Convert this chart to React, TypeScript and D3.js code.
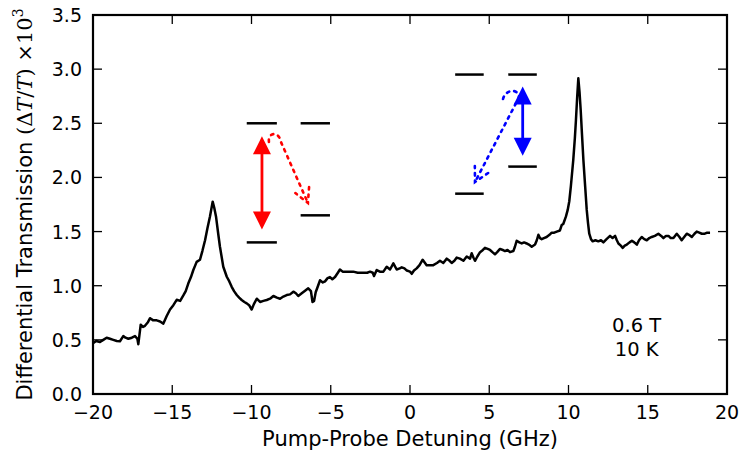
import React from "react";
import * as d3 from "d3";

const detuning = [
  -20.0, -19.8, -19.56, -19.35, -19.14, -18.93, -18.72, -18.5, -18.3, -18.09, -17.95, -17.77, -17.55, -17.35, -17.2, -17.14,
  -16.99, -16.85, -16.72, -16.55, -16.4, -16.2, -15.98, -15.77, -15.56, -15.35, -15.14, -14.93, -14.72, -14.5, -14.3, -14.15,
  -13.99, -13.82, -13.67, -13.46, -13.25, -13.1, -12.93, -12.78, -12.62, -12.45, -12.35, -12.24, -12.1, -11.99, -11.78, -11.56,
  -11.4, -11.25, -11.1, -10.93, -10.78, -10.62, -10.45, -10.3, -10.15, -9.99, -9.85, -9.67, -9.46, -9.25, -9.04, -8.83,
  -8.62, -8.4, -8.2, -7.99, -7.78, -7.57, -7.36, -7.2, -7.05, -6.83, -6.62, -6.42, -6.25, -6.15, -6.05, -5.95,
  -5.8, -5.68, -5.5, -5.36, -5.2, -5.05, -4.9, -4.73, -4.55, -4.42, -4.25, -4.1, -3.8, -3.58, -3.3, -2.95,
  -2.7, -2.52, -2.35, -2.27, -2.1, -1.9, -1.68, -1.47, -1.26, -1.05, -0.84, -0.65, -0.52, -0.35, -0.2, 0.0,
  0.11, 0.25, 0.42, 0.6, 0.8, 1.05, 1.25, 1.47, 1.7, 1.89, 2.1, 2.32, 2.5, 2.63, 2.8, 2.95,
  3.15, 3.37, 3.58, 3.79, 3.89, 4.0, 4.1, 4.25, 4.42, 4.6, 4.73, 4.9, 5.05, 5.2, 5.36, 5.5,
  5.68, 5.85, 5.99, 6.15, 6.31, 6.52, 6.62, 6.73, 6.9, 7.05, 7.2, 7.36, 7.5, 7.68, 7.89, 8.0,
  8.1, 8.2, 8.31, 8.45, 8.62, 8.8, 8.94, 9.1, 9.26, 9.46, 9.57, 9.67, 9.84, 9.95, 10.05, 10.15,
  10.3, 10.4, 10.47, 10.55, 10.62, 10.7, 10.77, 10.85, 10.94, 11.05, 11.15, 11.23, 11.31, 11.42, 11.52, 11.7,
  11.88, 12.05, 12.2, 12.4, 12.62, 12.78, 12.94, 13.05, 13.15, 13.3, 13.42, 13.55, 13.68, 13.85, 14.0, 14.15,
  14.31, 14.45, 14.62, 14.78, 14.94, 15.1, 15.25, 15.45, 15.67, 15.85, 15.99, 16.15, 16.31, 16.45, 16.62, 16.83,
  17.0, 17.14, 17.3, 17.46, 17.6, 17.78, 17.95, 18.09, 18.25, 18.41, 18.6, 18.75, 18.93,
];

const transmission = [
  0.47, 0.49, 0.48, 0.5, 0.52, 0.51, 0.5, 0.49, 0.487, 0.535, 0.52, 0.51, 0.52, 0.535, 0.51, 0.46,
  0.64, 0.62, 0.63, 0.66, 0.7, 0.68, 0.68, 0.67, 0.65, 0.72, 0.78, 0.82, 0.87, 0.86, 0.91, 0.95,
  1.02, 1.08, 1.145, 1.22, 1.24, 1.32, 1.42, 1.53, 1.64, 1.776, 1.72, 1.64, 1.48, 1.36, 1.175, 1.083,
  1.04, 0.99, 0.95, 0.914, 0.89, 0.868, 0.85, 0.837, 0.82, 0.78, 0.83, 0.88, 0.85, 0.86, 0.868, 0.88,
  0.905, 0.89, 0.88, 0.9, 0.914, 0.92, 0.945, 0.93, 0.905, 0.93, 0.954, 0.976, 0.95, 0.85, 0.86, 0.94,
  1.0, 1.05, 1.03, 1.04, 1.07, 1.08, 1.06, 1.08, 1.12, 1.15, 1.13, 1.13, 1.13, 1.13, 1.12, 1.12,
  1.12, 1.13, 1.12, 1.09, 1.145, 1.13, 1.13, 1.175, 1.15, 1.207, 1.15, 1.16, 1.17, 1.16, 1.14, 1.13,
  1.11, 1.14, 1.16, 1.19, 1.24, 1.19, 1.19, 1.19, 1.21, 1.23, 1.21, 1.25, 1.23, 1.21, 1.23, 1.26,
  1.25, 1.23, 1.27, 1.25, 1.3, 1.26, 1.23, 1.27, 1.31, 1.33, 1.35, 1.34, 1.33, 1.31, 1.29, 1.31,
  1.34, 1.33, 1.32, 1.33, 1.31, 1.32, 1.36, 1.415, 1.4, 1.39, 1.4, 1.39, 1.38, 1.36, 1.38, 1.42,
  1.47, 1.44, 1.43, 1.44, 1.45, 1.47, 1.49, 1.49, 1.5, 1.51, 1.56, 1.57, 1.64, 1.7, 1.78, 1.92,
  2.16, 2.36, 2.53, 2.75, 2.915, 2.78, 2.62, 2.4, 2.16, 1.92, 1.7, 1.58, 1.48, 1.43, 1.41, 1.42,
  1.41, 1.42, 1.4, 1.43, 1.46, 1.44, 1.46, 1.42, 1.39, 1.37, 1.35, 1.37, 1.38, 1.4, 1.415, 1.4,
  1.38, 1.42, 1.45, 1.43, 1.42, 1.44, 1.45, 1.46, 1.48, 1.46, 1.44, 1.46, 1.46, 1.44, 1.44, 1.48,
  1.45, 1.42, 1.45, 1.48, 1.47, 1.45, 1.48, 1.5, 1.49, 1.48, 1.48, 1.49, 1.49,
];

const xTicks = [-20, -15, -10, -5, 0, 5, 10, 15, 20];
const yTicks = [0, 0.5, 1.0, 1.5, 2.0, 2.5, 3.0, 3.5];

// energy level bars: [x0, x1, y]
const levels = [
  [-10.3, -8.4, 2.5],
  [-10.3, -8.4, 1.4],
  [-6.9, -5.05, 2.5],
  [-6.9, -5.05, 1.65],
  [2.85, 4.65, 2.95],
  [2.85, 4.65, 1.85],
  [6.2, 8.0, 2.95],
  [6.2, 8.0, 2.1],
];

// solid double arrows: [x, yTop, yBottom, color]
const solidArrows: [number, number, number, string][] = [
  [-9.34, 2.38, 1.52, "#ff0000"],
  [7.11, 2.84, 2.2, "#0000ff"],
];

// dotted hook arrows: start, ctrl1, ctrl2, hook end, tip
const dottedArrows: [number, number][][] = [
  [[-8.9, 2.327], [-8.98, 2.42], [-8.26, 2.43], [-8.14, 2.327], [-6.44, 1.764]],
  [[5.87, 2.724], [6.0, 2.81], [6.82, 2.83], [6.88, 2.74], [4.1, 1.957]],
];
const dottedColors = ["#ff0000", "#0000ff"];

const W = 741;
const H = 456;
const L = 93, R = 727, T = 15, B = 394;

export default function App() {
  const x = d3.scaleLinear().domain([-20, 20]).range([L, R]);
  const y = d3.scaleLinear().domain([0, 3.5]).range([B, T]);
  const pts = detuning.map((d, i) => [d, transmission[i]] as [number, number]);
  const line = d3.line<[number, number]>().x((d) => x(d[0])).y((d) => y(d[1]));
  const fmtX = (v: number) => (v < 0 ? "\u2212" + Math.abs(v) : String(v));
  const fmtY = d3.format(".1f");
  const tickLen = 9;
  const sans = "'DejaVu Sans', sans-serif";
  const serif = "'DejaVu Serif', serif";

  return (
    <svg width={W} height={H} style={{ position: "absolute", left: 0, top: 0, background: "#fff" }}>
      <rect x={0} y={0} width={W} height={H} fill="#fff" />
      {/* data line */}
      <path d={line(pts) || ""} fill="none" stroke="#000" strokeWidth={2.5} strokeLinejoin="round" />

      {/* levels */}
      {levels.map((l, i) => (
        <line key={"lv" + i} x1={x(l[0])} x2={x(l[1])} y1={y(l[2])} y2={y(l[2])} stroke="#000" strokeWidth={2.5} />
      ))}

      {/* solid arrows */}
      {solidArrows.map(([ax, yt, yb, c], i) => {
        const px = x(ax), pt = y(yt), pb = y(yb);
        const hl = 18, hw = 9;
        return (
          <g key={"sa" + i}>
            <line x1={px} x2={px} y1={pt + hl - 2} y2={pb - hl + 2} stroke={c} strokeWidth={2.8} />
            <polygon points={`${px},${pt} ${px - hw},${pt + hl} ${px + hw},${pt + hl}`} fill={c} />
            <polygon points={`${px},${pb} ${px - hw},${pb - hl} ${px + hw},${pb - hl}`} fill={c} />
          </g>
        );
      })}

      {/* dotted arrows */}
      {dottedArrows.map((a, i) => {
        const p = a.map(([u, v]) => [x(u), y(v)]);
        const pth = d3.path();
        pth.moveTo(p[0][0], p[0][1]);
        pth.bezierCurveTo(p[1][0], p[1][1], p[2][0], p[2][1], p[3][0], p[3][1]);
        pth.lineTo(p[4][0], p[4][1]);
        const dx = p[3][0] - p[4][0], dy = p[3][1] - p[4][1];
        const len = Math.hypot(dx, dy);
        const ux = dx / len, uy = dy / len;
        const al = 16, ang = (28 * Math.PI) / 180;
        const rot = (s: number) => [
          p[4][0] + al * (ux * Math.cos(s * ang) - uy * Math.sin(s * ang)),
          p[4][1] + al * (ux * Math.sin(s * ang) + uy * Math.cos(s * ang)),
        ];
        const a1 = rot(1), a2 = rot(-1);
        const head = `M${a1[0]},${a1[1]} L${p[4][0]},${p[4][1]} L${a2[0]},${a2[1]}`;
        return (
          <g key={"da" + i} fill="none" stroke={dottedColors[i]} strokeWidth={2.6} strokeLinecap="round" strokeDasharray="2.5,5">
            <path d={pth.toString()} />
            <path d={head} />
          </g>
        );
      })}

      {/* ticks */}
      {xTicks.map((t) => (
        <g key={"xt" + t}>
          <line x1={x(t)} x2={x(t)} y1={B} y2={B - tickLen} stroke="#000" strokeWidth={1.3} />
          <line x1={x(t)} x2={x(t)} y1={T} y2={T + tickLen} stroke="#000" strokeWidth={1.3} />
          <text x={x(t)} y={419} textAnchor="middle" fontFamily={sans} fontSize={19} fill="#000">
            {fmtX(t)}
          </text>
        </g>
      ))}
      {yTicks.map((t) => (
        <g key={"yt" + t}>
          <line x1={L} x2={L + tickLen} y1={y(t)} y2={y(t)} stroke="#000" strokeWidth={1.3} />
          <line x1={R} x2={R - tickLen} y1={y(t)} y2={y(t)} stroke="#000" strokeWidth={1.3} />
          <text x={82} y={y(t) + 7} textAnchor="end" fontFamily={sans} fontSize={19} fill="#000">
            {fmtY(t)}
          </text>
        </g>
      ))}

      {/* frame */}
      <rect x={L} y={T} width={R - L} height={B - T} fill="none" stroke="#000" strokeWidth={2.2} />

      {/* labels */}
      <text x={(L + R) / 2} y={446} textAnchor="middle" fontFamily={sans} fontSize={21} fill="#000">
        Pump-Probe Detuning (GHz)
      </text>
      <text transform={`translate(32,${(T + B) / 2}) rotate(-90)`} textAnchor="middle" fontFamily={sans} fontSize={21} fill="#000">
        Differential Transmission{" "}
        <tspan fontFamily={serif}>(Δ</tspan>
        <tspan fontFamily={serif} fontStyle="italic">T</tspan>
        <tspan fontFamily={serif}>/</tspan>
        <tspan fontFamily={serif} fontStyle="italic">T</tspan>
        <tspan fontFamily={serif}>) ×10</tspan>
        <tspan fontFamily={serif} fontSize={14} dy={-9}>3</tspan>
      </text>

      <text x={x(14.3)} y={332} textAnchor="middle" fontFamily={sans} fontSize={19.5} fill="#000">
        0.6 T
      </text>
      <text x={x(14.3)} y={356} textAnchor="middle" fontFamily={sans} fontSize={19.5} fill="#000">
        10 K
      </text>
    </svg>
  );
}
